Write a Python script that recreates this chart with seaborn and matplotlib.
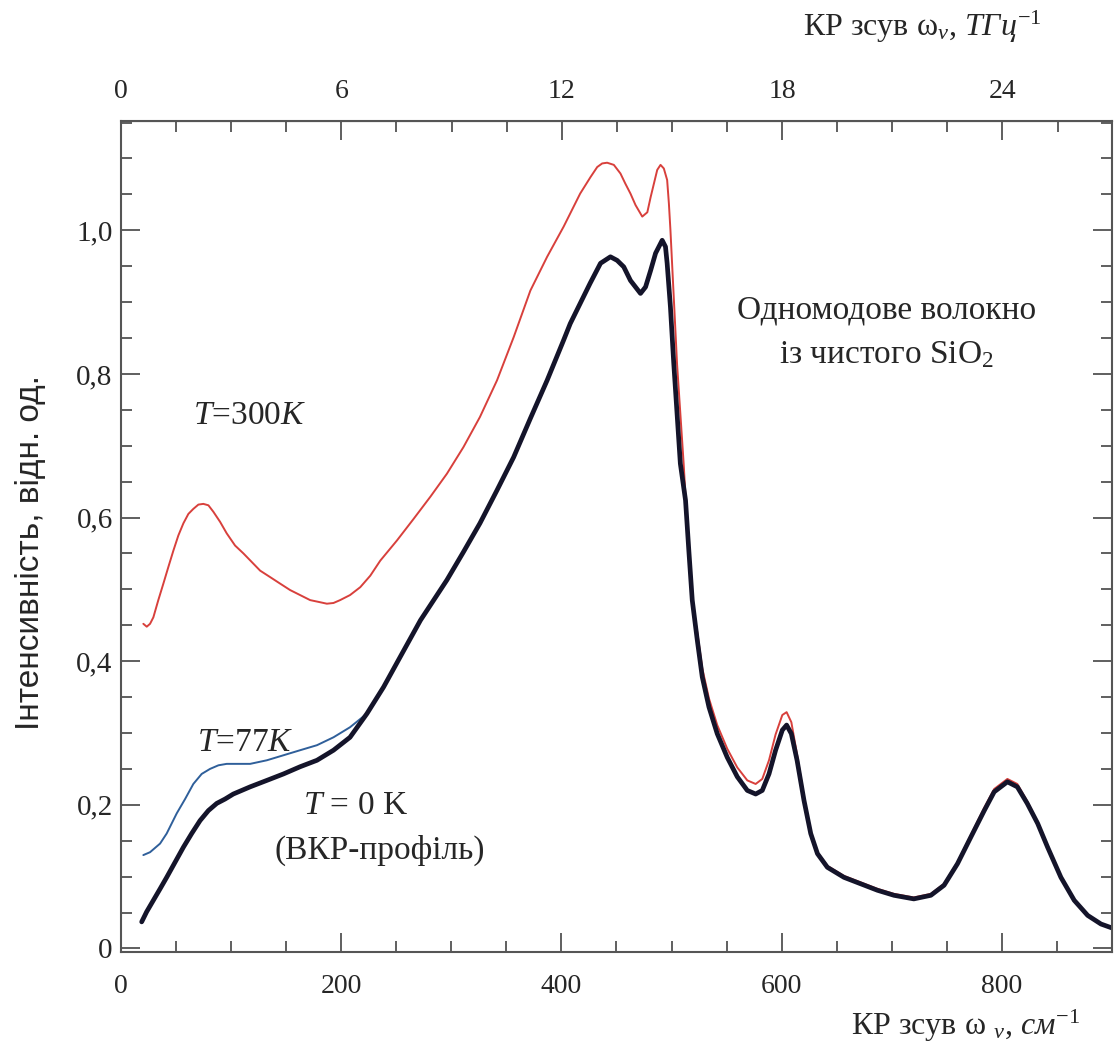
import numpy as np
import pandas as pd
import seaborn as sns
import matplotlib.pyplot as plt
from matplotlib.ticker import MultipleLocator

# Raman spectra of a pure SiO2 single-mode fibre
# T = 300 K
x_red = [20.3, 23.4, 26.4, 29.4, 33.9, 38.5, 43, 47.6, 52.1, 56.7, 61.2, 65.7, 70.3, 74.8,
         79.4, 83.9, 90, 96, 103.6, 111.2, 118.8, 126.4, 135.5, 144.5, 153.6, 162.7, 171.8,
         181, 187, 193, 199, 208, 217.3, 226.4, 235.5, 250.6, 265.7, 281, 296, 311, 326,
         341.5, 356.6, 371.8, 387, 402, 417, 426.4, 432.5, 437, 441.5, 447.6, 453.6, 458,
         462.7, 467.3, 473.4, 478, 481, 484, 487, 490, 493, 496, 497.6, 499, 502, 505, 511,
         517, 520, 523.4, 527.9, 534, 541.5, 550.6, 559.7, 568.8, 576.4, 582.4, 588.5,
         594.5, 600.6, 604.5, 608.8, 614, 620.3, 626.4, 632.5, 641.5, 656.6, 671.8, 687,
         702, 720, 735.5, 747.5, 759.7, 771.8, 784, 793, 805, 814, 823, 832.5, 841.5,
         853.6, 865.7, 877.9, 890, 902.7]
y_red = [0.452, 0.448, 0.452, 0.461, 0.485, 0.508, 0.531, 0.554, 0.575, 0.592, 0.605, 0.612,
         0.618, 0.619, 0.617, 0.608, 0.594, 0.578, 0.561, 0.550, 0.538, 0.526, 0.517, 0.508,
         0.499, 0.492, 0.485, 0.482, 0.480, 0.481, 0.485, 0.492, 0.503, 0.519, 0.540, 0.568,
         0.598, 0.629, 0.661, 0.698, 0.740, 0.791, 0.851, 0.916, 0.963, 1.005, 1.051, 1.074,
         1.088, 1.093, 1.094, 1.091, 1.079, 1.065, 1.051, 1.035, 1.019, 1.025, 1.046, 1.065,
         1.084, 1.091, 1.086, 1.070, 1.037, 1.000, 0.907, 0.814, 0.675, 0.513, 0.470, 0.440,
         0.390, 0.348, 0.311, 0.278, 0.252, 0.234, 0.229, 0.236, 0.262, 0.298, 0.325, 0.329,
         0.315, 0.270, 0.210, 0.162, 0.134, 0.115, 0.101, 0.092, 0.083, 0.076, 0.071, 0.076,
         0.090, 0.120, 0.158, 0.196, 0.222, 0.236, 0.229, 0.205, 0.176, 0.143, 0.100, 0.068,
         0.046, 0.034, 0.027]

# T = 0 K (spontaneous Raman profile)
x_black = [18.8, 23.3, 29.4, 35.5, 41.5, 49.1, 56.7, 64.2, 71.8, 79.4, 87, 94.5, 102, 117.3,
           132.5, 147.6, 162.7, 178, 193, 208, 223.4, 238.5, 253.6, 272, 296, 311, 326,
           341.5, 356.6, 371.8, 387, 402, 408, 417, 426, 435.5, 444.5, 450.6, 456.6, 462.7,
           471.8, 476.4, 481, 485.5, 491.5, 494.5, 496, 499, 502, 508, 512.7, 515.7, 518.8,
           523.4, 527.9, 534, 541.5, 550.6, 559.7, 568.8, 576.4, 582.4, 588.5, 594.5, 600.6,
           604.5, 608.8, 614, 620.3, 626.4, 632.5, 641.5, 656.6, 671.8, 687, 702, 720, 735.5,
           747.5, 759.7, 771.8, 784, 793, 805, 814, 823, 832.5, 841.5, 853.6, 865.7, 877.9,
           890, 902.7]
y_black = [0.037, 0.051, 0.067, 0.083, 0.099, 0.120, 0.141, 0.160, 0.178, 0.192, 0.202, 0.208,
           0.215, 0.225, 0.234, 0.243, 0.253, 0.262, 0.276, 0.294, 0.327, 0.364, 0.406, 0.457,
           0.513, 0.552, 0.592, 0.638, 0.684, 0.738, 0.791, 0.847, 0.870, 0.898, 0.926, 0.954,
           0.963, 0.958, 0.949, 0.930, 0.912, 0.921, 0.944, 0.968, 0.986, 0.977, 0.954, 0.893,
           0.815, 0.675, 0.624, 0.554, 0.485, 0.429, 0.378, 0.336, 0.299, 0.266, 0.239, 0.220,
           0.215, 0.220, 0.243, 0.276, 0.304, 0.311, 0.299, 0.262, 0.206, 0.160, 0.132, 0.113,
           0.099, 0.090, 0.081, 0.074, 0.069, 0.074, 0.088, 0.118, 0.155, 0.192, 0.218, 0.232,
           0.225, 0.202, 0.174, 0.141, 0.099, 0.067, 0.046, 0.034, 0.027]

# T = 77 K: separate at low frequency, then runs under the 0 K profile
x_blue_low = [20.3, 26.4, 35.5, 41.5, 50.6, 58.2, 65.7, 73.3, 80.9, 88.5, 96, 117.3, 132.5,
              147.6, 162.7, 178, 193, 208]
y_blue_low = [0.130, 0.134, 0.146, 0.160, 0.188, 0.208, 0.229, 0.243, 0.250, 0.255, 0.257,
              0.257, 0.262, 0.269, 0.276, 0.283, 0.294, 0.308]
tail = [(a, b) for a, b in zip(x_black, y_black) if a >= 223]
x_blue = x_blue_low + [a for a, b in tail]
y_blue = y_blue_low + [b for a, b in tail]

CM_PER_THZ = 33.356

sns.set_style("ticks")
plt.rcParams['font.family'] = ['Liberation Serif', 'DejaVu Serif']
plt.rcParams['mathtext.fontset'] = 'custom'
plt.rcParams['mathtext.rm'] = 'Liberation Serif'
plt.rcParams['mathtext.it'] = 'Liberation Serif:italic'

fig = plt.figure(figsize=(11.14, 10.5), dpi=100)
ax = fig.add_axes([0.1086, 0.0933, 0.8896, 0.7914])

sns.lineplot(x=x_red, y=y_red, ax=ax, color='#d8403c', lw=1.4, sort=False, estimator=None)
sns.lineplot(x=x_blue, y=y_blue, ax=ax, color='#2f5f9a', lw=1.4, sort=False, estimator=None)
sns.lineplot(x=x_black, y=y_black, ax=ax, color='#14142a', lw=3.4, sort=False, estimator=None)

ax.set_xlim(0, 900)
ax.set_ylim(-0.005, 1.152)
ax.xaxis.set_major_locator(MultipleLocator(200))
ax.xaxis.set_minor_locator(MultipleLocator(50))
ax.yaxis.set_minor_locator(MultipleLocator(0.05))
ax.set_yticks([0, 0.2, 0.4, 0.6, 0.8, 1.0])
ax.set_yticklabels(['0', '0,2', '0,4', '0,6', '0,8', '1,0'])
ax.tick_params(which='both', direction='in', right=True, top=False,
               color='#444444', width=1.2)
ax.tick_params(which='major', length=14)
ax.tick_params(which='minor', length=8)
ax.tick_params(axis='x', labelsize=20, pad=16)
ax.tick_params(axis='y', labelsize=21, pad=6)
for s in ax.spines.values():
    s.set_linewidth(1.5)
    s.set_color('#555555')

top = ax.secondary_xaxis('top', functions=(lambda v: v / CM_PER_THZ, lambda v: v * CM_PER_THZ))
top.set_xticks([0, 6, 12, 18, 24])
top.xaxis.set_minor_locator(MultipleLocator(1.5))
top.tick_params(which='both', direction='in', labelsize=20, color='#444444', width=1.2)
top.tick_params(which='major', length=14, pad=12)
top.tick_params(which='minor', length=8)

ax.set_xlabel('')
ax.set_ylabel('')
fig.text(0.97, 0.023, 'КР зсув ω $_{\\nu}$, $\\mathit{см}^{-1}$', ha='right', va='center', fontsize=23)
fig.text(0.935, 0.974, 'КР зсув ω$_{\\nu}$, $\\mathit{ТГц}^{-1}$', ha='right', va='center', fontsize=23)
fig.text(0.027, 0.474, 'Інтенсивність, відн. од.', rotation=90, ha='center', va='center',
         fontsize=24, family='Liberation Sans')

ax.text(117, 0.742, '$T$=300$K$', ha='center', va='center', fontsize=24)
ax.text(113, 0.287, '$T$=77$K$', ha='center', va='center', fontsize=24)
ax.text(213, 0.199, '$T$ = 0 K', ha='center', va='center', fontsize=24)
ax.text(235, 0.136, '(ВКР-профіль)', ha='center', va='center', fontsize=24)
ax.text(695, 0.889, 'Одномодове волокно', ha='center', va='center', fontsize=24)
ax.text(695, 0.826, 'із чистого SiO$_2$', ha='center', va='center', fontsize=24)

fig.savefig('out.png', dpi=100)
